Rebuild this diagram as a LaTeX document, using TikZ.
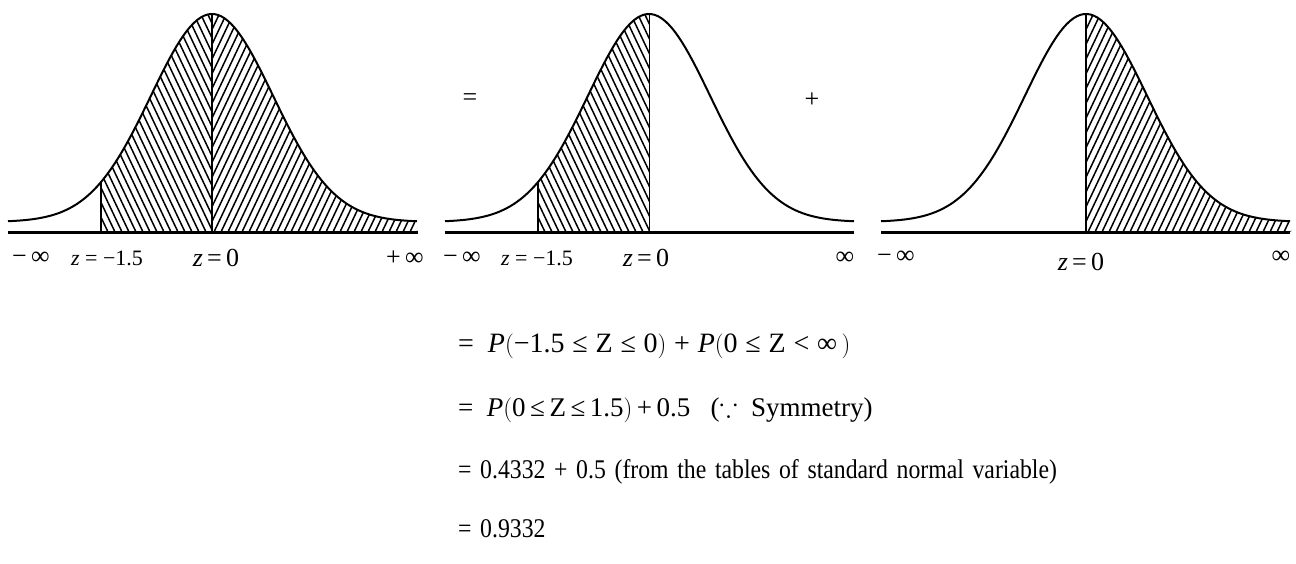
\documentclass[tikz,border=0pt]{standalone}
\usepackage{amssymb}
\usepackage{fontspec}
\setmainfont{Liberation Serif}
\newfontfamily\narrowserif[FakeStretch=0.88]{Liberation Serif}
\usetikzlibrary{positioning}

% standard normal shape, offset so that the tails stay above the axis
\tikzset{declare function={bell(\t)=222-208*exp(-((\t)/100)^2/0.7467);}}

\begin{document}
\begin{tikzpicture}[x=1pt, y=-1pt,
        curve/.style={line width=2pt},
        axis/.style={line width=3pt},
        hatch/.style={line width=1.5pt},
        lbl/.style={font=\fontsize{26}{28}\selectfont, inner sep=0pt},
        zlbl/.style={font=\fontsize{22}{24}\selectfont, inner sep=0pt},
        eqn/.style={font=\fontsize{27}{30}\selectfont, inner sep=0pt, anchor=west},
        node distance=62pt
    ]
        \useasboundingbox (0,0) rectangle (1296,563);

        % left: P(-1.5 <= Z < oo)
        \begin{scope}[xshift=212pt]
            \begin{scope}
                \clip (-111,232) -- plot[domain=-111:0, samples=60] (\x,{bell(\x)}) -- (0,232) -- cycle;
                \foreach \i in {0,...,34} \draw[hatch] ({-235+\i*7},0) -- ++(110,232);
            \end{scope}
            \begin{scope}
                \clip (0,232) -- plot[domain=0:205, samples=80] (\x,{bell(\x)}) -- (205,232) -- cycle;
                \foreach \i in {0,...,48} \draw[hatch] ({\i*7},0) -- ++(-110,232);
            \end{scope}
            \draw[curve] plot[domain=-204:205, samples=120] (\x,{bell(\x)});
            \draw[line width=1.5pt] (-111,232) -- (-111,{bell(-111)});
            \draw[line width=2pt] (0,232) -- (0,{bell(0)});
            \draw[axis] (-204,232) -- (206,232);
        \end{scope}
        \node[lbl] (minf1) at (31,258) {−\,∞};
        \node[zlbl] (zm1) at (107,258) {\textit{z} = −1.5};
        \node[lbl] (zero1) at (216,258) {\textit{z}\,=\,0};
        \node[lbl] (pinf1) at (405,258) {+\,∞};

        \node[lbl] (eqsign) at (470,100) {=};

        % middle: P(-1.5 <= Z <= 0)
        \begin{scope}[xshift=649pt]
            \begin{scope}
                \clip (-111,232) -- plot[domain=-111:0, samples=60] (\x,{bell(\x)}) -- (0,232) -- cycle;
                \foreach \i in {0,...,34} \draw[hatch] ({-235+\i*7},0) -- ++(110,232);
            \end{scope}
            \draw[curve] plot[domain=-204:205, samples=120] (\x,{bell(\x)});
            \draw[line width=1.5pt] (-111,232) -- (-111,{bell(-111)});
            \draw[line width=1pt] (0,232) -- (0,{bell(0)});
            \draw[axis] (-204,232) -- (205,232);
        \end{scope}
        \node[lbl] (minf2) at (462,258) {−\,∞};
        \node[zlbl] (zm2) at (537,258) {\textit{z} = −1.5};
        \node[lbl] (zero2) at (646,258) {\textit{z}\,=\,0};
        \node[lbl] (inf2) at (845,258) {∞};

        \node[lbl] (plussign) at (812,100) {+};

        % right: P(0 <= Z < oo)
        \begin{scope}[xshift=1086pt]
            \begin{scope}
                \clip (0,232) -- plot[domain=0:205, samples=80] (\x,{bell(\x)}) -- (205,232) -- cycle;
                \foreach \i in {0,...,48} \draw[hatch] ({\i*7},0) -- ++(-110,232);
            \end{scope}
            \draw[curve] plot[domain=-205:204, samples=120] (\x,{bell(\x)});
            \draw[line width=2.5pt] (0,232) -- (0,{bell(0)});
            \draw[axis] (-205,232) -- (204,232);
        \end{scope}
        \node[lbl] (minf3) at (896,257) {−\,∞};
        \node[lbl] (zero3) at (1081,262) {\textit{z}\,=\,0};
        \node[lbl] (inf3) at (1281,257) {∞};

        % working below the curves
        \node[eqn, font=\fontsize{28}{30}\selectfont] (eq1) at (458,346) {=\ \ \textit{P}$\Bigl($−1.5\;≤\;Z\;≤\;0$\Bigr)$\;+\;\textit{P}$\Bigl($0\;≤\;Z\;<\;∞\,$\Bigr)$};
        \node[eqn, below=64pt of eq1.west, anchor=west] (eq2) {=\ \ \textit{P}$\Bigl($0\,≤\,Z\,≤\,1.5$\Bigr)$\,+\,0.5\ \ \ ($\because$\ \ Symmetry)};
        \node[eqn, below=of eq2.west, anchor=west] (eq3) {\narrowserif\spaceskip=0.32em = 0.4332 + 0.5 (from the tables of standard normal variable)};
        \node[eqn, below=57pt of eq3.west, anchor=west] (eq4) {\narrowserif\spaceskip=0.32em = 0.9332};
\end{tikzpicture}
\end{document}
